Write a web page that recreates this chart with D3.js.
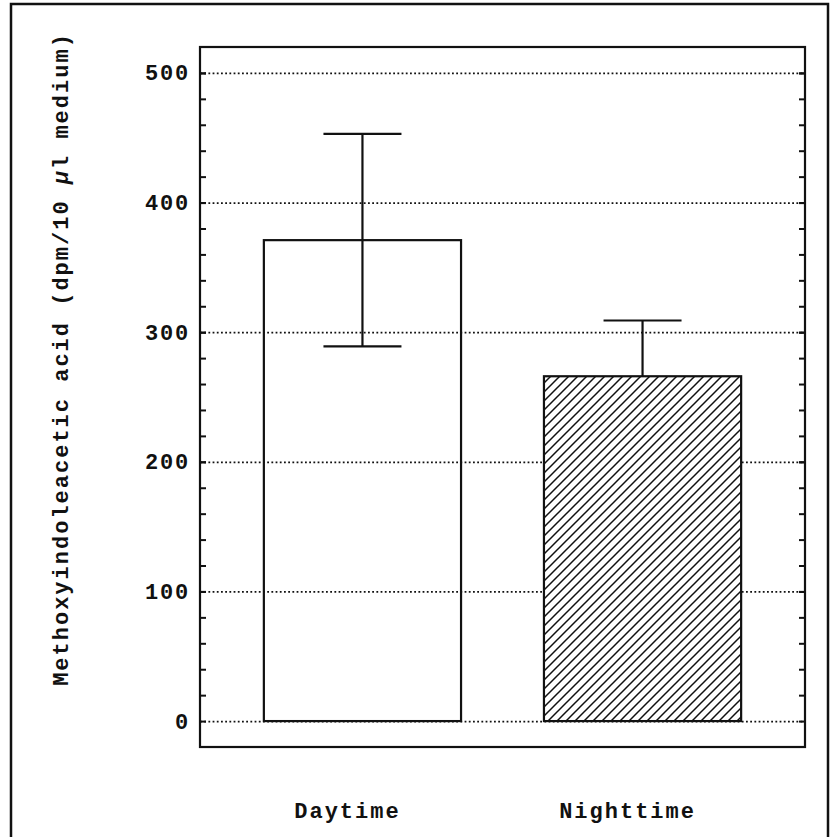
<!DOCTYPE html>
<html>
<head>
<meta charset="utf-8">
<script src="https://cdn.jsdelivr.net/npm/d3@7"></script>
<style>
    body { margin: 0; background: #fff; }
    svg text { font-family: "Liberation Mono", "Courier New", monospace; font-weight: bold; fill: #111; }
</style>
</head>
<body>
<div id="chart"></div>
<script>
// values
const categories = ['Daytime', 'Nighttime'];
const means = [371, 266];
const stdErrors = [82, 43];
const majorTicks = [0, 100, 200, 300, 400, 500];
const minorTicks = d3.range(20, 520, 20);
const yTitle = 'Methoxyindoleacetic acid (dpm/10 ';
const yTitleUnit = ' medium)';

const W = 831, H = 837;
const frame = { left: 200, right: 805, top: 47, bottom: 747 };

const svg = d3.select('#chart').append('svg')
    .attr('width', W)
    .attr('height', H);

// hatch for nighttime bar
const defs = svg.append('defs');
const pat = defs.append('pattern')
    .attr('id', 'hatch')
    .attr('patternUnits', 'userSpaceOnUse')
    .attr('width', 9)
    .attr('height', 9);
pat.append('rect').attr('width', 9).attr('height', 9).attr('fill', '#fff');
pat.append('path')
    .attr('d', 'M0,9 L9,0 M-2,2 L2,-2 M7,11 L11,7')
    .attr('stroke', '#111')
    .attr('stroke-width', 1.5);

// outer border of the figure
svg.append('rect')
    .attr('x', 11).attr('y', 4)
    .attr('width', 817).attr('height', 860)
    .attr('fill', 'none')
    .attr('stroke', '#111')
    .attr('stroke-width', 2.5);

const x = d3.scaleBand()
    .domain(categories)
    .range([frame.left, frame.right])
    .paddingInner(0.296)
    .paddingOuter(0.228);

const y = d3.scaleLinear()
    .domain([-20, 520])
    .range([frame.bottom, frame.top]);

const plotW = frame.right - frame.left;

// dotted gridlines at major values
const grid = svg.append('g')
    .attr('transform', `translate(${frame.left},0)`)
    .call(d3.axisLeft(y).tickValues(majorTicks).tickSize(-plotW).tickFormat(''));
grid.select('.domain').remove();
grid.selectAll('line')
    .attr('stroke', '#111')
    .attr('stroke-width', 1.8)
    .attr('stroke-dasharray', '1.8,2.4');

// inward ticks on both sides
const leftTicks = svg.append('g')
    .attr('transform', `translate(${frame.left},0)`)
    .call(d3.axisLeft(y).tickValues(minorTicks.concat(majorTicks)).tickSize(-6).tickFormat(''));
leftTicks.select('.domain').remove();
leftTicks.selectAll('line').attr('stroke', '#111').attr('stroke-width', 2);

const rightTicks = svg.append('g')
    .attr('transform', `translate(${frame.right},0)`)
    .call(d3.axisRight(y).tickValues(minorTicks.concat(majorTicks)).tickSize(-6).tickFormat(''));
rightTicks.select('.domain').remove();
rightTicks.selectAll('line').attr('stroke', '#111').attr('stroke-width', 2);

// tick labels
const labels = svg.append('g')
    .attr('transform', `translate(${frame.left},0)`)
    .call(d3.axisLeft(y).tickValues(majorTicks).tickSize(0).tickPadding(10));
labels.select('.domain').remove();
labels.selectAll('text')
    .attr('font-size', 22)
    .attr('letter-spacing', 1.8)
    .attr('font-family', null);

// error bars (drawn first so the hatched bar hides the lower half)
const capW = 78;
const eb = svg.append('g')
    .attr('stroke', '#111')
    .attr('stroke-width', 2.2);
categories.forEach((c, i) => {
    const cx = x(c) + x.bandwidth() / 2;
    const hi = y(means[i] + stdErrors[i]);
    const lo = y(means[i] - stdErrors[i]);
    eb.append('line').attr('x1', cx).attr('x2', cx).attr('y1', hi).attr('y2', lo);
    eb.append('line').attr('x1', cx - capW / 2).attr('x2', cx + capW / 2).attr('y1', hi).attr('y2', hi);
    eb.append('line').attr('x1', cx - capW / 2).attr('x2', cx + capW / 2).attr('y1', lo).attr('y2', lo);
});

// bars
svg.append('g').selectAll('rect')
    .data(categories)
    .join('rect')
    .attr('x', d => x(d))
    .attr('width', x.bandwidth())
    .attr('y', (d, i) => y(means[i]))
    .attr('height', (d, i) => y(0) - y(means[i]))
    .attr('fill', (d, i) => i === 0 ? 'none' : 'url(#hatch)')
    .attr('stroke', '#111')
    .attr('stroke-width', 2.2);

// plot frame
svg.append('rect')
    .attr('x', frame.left).attr('y', frame.top)
    .attr('width', plotW).attr('height', frame.bottom - frame.top)
    .attr('fill', 'none')
    .attr('stroke', '#111')
    .attr('stroke-width', 2.2);

// category labels
svg.append('g').selectAll('text')
    .data(categories)
    .join('text')
    .attr('x', d => x(d) + x.bandwidth() / 2 - 15)
    .attr('y', 818)
    .attr('text-anchor', 'middle')
    .attr('font-size', 22)
    .attr('letter-spacing', 2)
    .text(d => d);

// y title
const title = svg.append('text')
    .attr('transform', 'translate(68,359) rotate(-90)')
    .attr('text-anchor', 'middle')
    .attr('font-size', 22)
    .attr('letter-spacing', 2)
    .text(yTitle);
title.append('tspan').attr('font-style', 'italic').text('μ');
title.append('tspan').text('l' + yTitleUnit);
</script>
</body>
</html>
